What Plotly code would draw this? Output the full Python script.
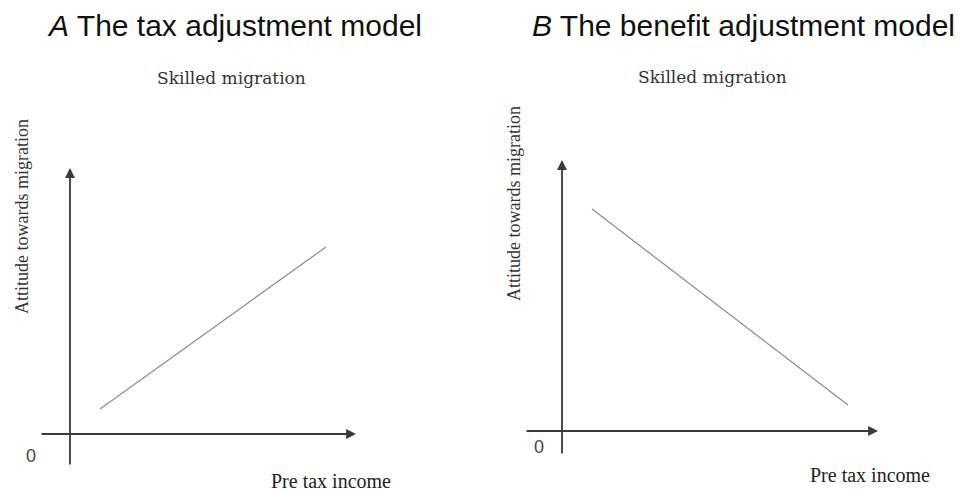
import plotly.graph_objects as go

# ---- data (conceptual model lines, arbitrary units) ----
income_a = [1.05, 8.95]
attitude_a = [0.94, 7.03]
income_b = [0.95, 9.05]
attitude_b = [8.19, 0.96]

panel_titles = ["The tax adjustment model", "The benefit adjustment model"]
panel_letters = ["A", "B"]
subtitle = "Skilled migration"
y_label = "Attitude towards migration"
x_label = "Pre tax income"

W, H = 967, 491
def px(x):
    return x / W
def py(y):
    return 1 - y / H

fig = go.Figure()

line_style = dict(color="#8a8a8a", width=1.2)
fig.add_trace(go.Scatter(x=income_a, y=attitude_a, mode="lines", line=line_style,
                         xaxis="x", yaxis="y", showlegend=False, hoverinfo="skip"))
fig.add_trace(go.Scatter(x=income_b, y=attitude_b, mode="lines", line=line_style,
                         xaxis="x2", yaxis="y2", showlegend=False, hoverinfo="skip"))

# axis ranges / domains (panel A origin at (70,434), panel B origin at (562,431))
ax_common = dict(showgrid=False, zeroline=False, showticklabels=False, ticks="",
                 showline=False, fixedrange=True)
fig.update_layout(
    xaxis=dict(domain=[px(40), px(356)], range=[-30/28.6, 10], anchor="y", **ax_common),
    yaxis=dict(domain=[py(466), py(168)], range=[-32/26.6, 10], anchor="x", **ax_common),
    xaxis2=dict(domain=[px(525), px(878)], range=[-37/31.6, 10], anchor="y2", **ax_common),
    yaxis2=dict(domain=[py(455), py(160)], range=[-24/27.1, 10], anchor="x2", **ax_common),
)

axis_color = "#3a3a3a"
anns = []
for xr, yr, xmin, ymin in [("x", "y", -30/28.6, -32/26.6), ("x2", "y2", -37/31.6, -24/27.1)]:
    anns.append(dict(x=10, y=0, ax=xmin, ay=0, xref=xr, yref=yr, axref=xr, ayref=yr,
                     text="", showarrow=True, arrowhead=2, arrowsize=1.1, arrowwidth=1.8,
                     arrowcolor=axis_color))
    anns.append(dict(x=0, y=10, ax=0, ay=ymin, xref=xr, yref=yr, axref=xr, ayref=yr,
                     text="", showarrow=True, arrowhead=2, arrowsize=1.1, arrowwidth=1.8,
                     arrowcolor=axis_color))

title_font = dict(family="Liberation Sans, Arial", size=30, color="#111111")
for letter, title, cx in zip(panel_letters, panel_titles, [234.5, 743]):
    anns.append(dict(x=px(cx), y=py(25), xref="paper", yref="paper", showarrow=False,
                     text=f"<i>{letter}</i> {title}", font=title_font,
                     xanchor="center", yanchor="middle"))

sub_font = dict(family="DejaVu Serif", size=17, color="#333333")
for cx, cy in [(231, 78), (712, 77)]:
    anns.append(dict(x=px(cx), y=py(cy), xref="paper", yref="paper", showarrow=False,
                     text=subtitle, font=sub_font, xanchor="center", yanchor="middle"))

ylab_font = dict(family="Liberation Serif", size=18, color="#333333")
for cx, cy in [(22, 217), (514, 204)]:
    anns.append(dict(x=px(cx), y=py(cy), xref="paper", yref="paper", showarrow=False,
                     text=y_label, textangle=-90, font=ylab_font,
                     xanchor="center", yanchor="middle"))

xlab_font = dict(family="Liberation Serif", size=20, color="#222222")
for cx, cy in [(331, 481), (870, 475)]:
    anns.append(dict(x=px(cx), y=py(cy), xref="paper", yref="paper", showarrow=False,
                     text=x_label, font=xlab_font, xanchor="center", yanchor="middle"))

zero_font = dict(family="Liberation Sans, Arial", size=18, color="#444444")
for cx, cy in [(31, 456), (539, 447)]:
    anns.append(dict(x=px(cx), y=py(cy), xref="paper", yref="paper", showarrow=False,
                     text="0", font=zero_font, xanchor="center", yanchor="middle"))

fig.update_layout(
    annotations=anns,
    width=W, height=H,
    margin=dict(l=0, r=0, t=0, b=0),
    paper_bgcolor="white", plot_bgcolor="white",
    showlegend=False,
)

fig.write_html("out.html", config={"displayModeBar": False},
               post_script="document.body.style.margin='0';document.body.style.overflow='hidden';")
